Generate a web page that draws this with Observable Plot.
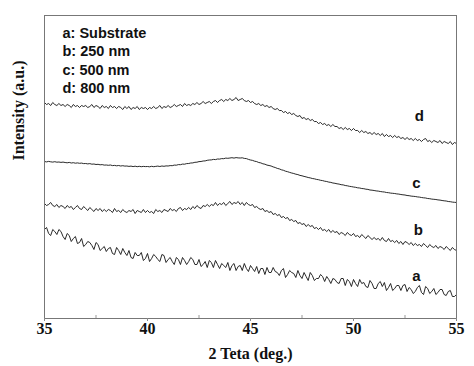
<!DOCTYPE html>
<html>
<head>
<meta charset="utf-8">
<script src="https://cdn.jsdelivr.net/npm/d3@7"></script>
<script src="https://cdn.jsdelivr.net/npm/@observablehq/plot@0.6"></script>
<style>
  html, body { margin: 0; padding: 0; background: #fff; }
</style>
</head>
<body>
<div id="chart"></div>
<script>
// 2θ angles (deg.)
const angles = [
  35,35.1,35.2,35.3,35.4,35.5,35.6,35.7,35.8,35.9,
  36,36.1,36.2,36.3,36.4,36.5,36.6,36.7,36.8,36.9,
  37,37.1,37.2,37.3,37.4,37.5,37.6,37.7,37.8,37.9,
  38,38.1,38.2,38.3,38.4,38.5,38.6,38.7,38.8,38.9,
  39,39.1,39.2,39.3,39.4,39.5,39.6,39.7,39.8,39.9,
  40,40.1,40.2,40.3,40.4,40.5,40.6,40.7,40.8,40.9,
  41,41.1,41.2,41.3,41.4,41.5,41.6,41.7,41.8,41.9,
  42,42.1,42.2,42.3,42.4,42.5,42.6,42.7,42.8,42.9,
  43,43.1,43.2,43.3,43.4,43.5,43.6,43.7,43.8,43.9,
  44,44.1,44.2,44.3,44.4,44.5,44.6,44.7,44.8,44.9,
  45,45.1,45.2,45.3,45.4,45.5,45.6,45.7,45.8,45.9,
  46,46.1,46.2,46.3,46.4,46.5,46.6,46.7,46.8,46.9,
  47,47.1,47.2,47.3,47.4,47.5,47.6,47.7,47.8,47.9,
  48,48.1,48.2,48.3,48.4,48.5,48.6,48.7,48.8,48.9,
  49,49.1,49.2,49.3,49.4,49.5,49.6,49.7,49.8,49.9,
  50,50.1,50.2,50.3,50.4,50.5,50.6,50.7,50.8,50.9,
  51,51.1,51.2,51.3,51.4,51.5,51.6,51.7,51.8,51.9,
  52,52.1,52.2,52.3,52.4,52.5,52.6,52.7,52.8,52.9,
  53,53.1,53.2,53.3,53.4,53.5,53.6,53.7,53.8,53.9,
  54,54.1,54.2,54.3,54.4,54.5,54.6,54.7,54.8,54.9,
  55];

// intensities (a.u., curves stacked as in the figure)
const seriesA = [
  89,91,85,83,89,87,84,89,87,82,
  79,85,83,77,80,82,75,76,80,72,
  74,77,76,73,69,76,74,68,70,72,
  67,70,71,65,64,71,68,64,70,66,
  63,68,61,60,66,63,63,66,58,60,
  65,57,60,64,62,59,57,64,63,56,
  59,61,57,54,61,59,54,61,58,54,
  57,61,59,54,54,59,52,54,57,51,
  58,56,51,58,54,50,55,53,51,56,
  48,53,55,48,52,53,48,55,50,47,
  53,50,47,52,45,50,50,44,51,46,
  46,51,47,46,43,48,50,41,44,48,
  46,45,41,48,43,40,46,42,38,46,
  43,38,40,40,44,42,37,42,39,35,
  40,39,36,35,40,40,33,39,37,32,
  39,35,32,39,35,36,32,31,38,35,
  30,30,35,37,32,36,28,31,35,28,
  30,33,33,28,33,34,27,31,29,25,
  27,31,33,26,24,32,30,25,27,30,
  24,26,29,29,24,23,27,28,22,22,
  24];
const seriesB = [
  115,113,114,116,113,112,114,111,113,112,
  110,113,111,112,109,111,113,110,109,112,
  110,108,111,109,107,110,108,110,107,109,
  107,109,108,106,110,107,108,106,109,107,
  106,108,107,109,105,108,107,106,109,106,
  108,106,107,105,109,107,108,106,109,108,
  107,110,108,109,107,110,111,108,110,109,
  111,109,112,110,113,111,110,113,112,114,
  112,114,113,116,113,115,114,116,113,115,
  117,114,116,115,117,114,116,113,116,114,
  113,114,111,112,110,109,110,107,108,106,
  107,104,105,103,104,101,102,100,101,98,
  99,97,98,95,96,94,95,92,94,92,
  93,90,91,89,91,88,89,87,89,86,
  88,86,87,84,86,85,83,86,84,83,
  85,82,83,81,84,82,80,83,81,79,
  81,79,80,78,81,78,77,80,77,78,
  76,78,75,77,74,77,76,74,76,73,
  75,73,74,72,75,73,71,74,72,71,
  73,70,72,71,69,72,70,68,71,69,
  68];
const seriesC = [
  157,156.6,157.1,156.7,156.4,156.8,156.3,156.5,156.1,156.4,
  156,155.7,156.1,155.5,155.8,155.3,155.6,155.2,155.4,154.9,
  155,154.6,154.9,154.3,154.5,154,154.2,153.7,153.9,153.4,
  153.5,153.2,153.5,152.9,153.1,152.7,153,152.5,152.8,152.4,
  152.5,152.1,152.4,151.9,152.3,151.8,152.2,151.8,152.1,151.9,
  152,151.7,152.2,151.8,152.1,152.4,152,152.5,152.2,152.6,
  152.5,152.9,152.8,153.4,153.3,153.9,153.8,154.4,154.3,154.9,
  155,155.5,155.6,156.2,156.3,156.9,157,157.5,157.6,158.2,
  158.5,158.6,159.1,158.9,159.5,159.4,159.9,159.8,160.4,160.2,
  160.5,160.8,160.4,160.9,160.6,160.5,160.7,160.1,159.9,159.1,
  158.5,158.1,157.3,156.9,156,155.6,154.7,154.3,153.4,153,
  152.5,151.6,151,150.1,149.6,148.7,148.2,147.3,146.8,146.1,
  145.5,145,144.3,143.9,143.1,142.7,142.1,141.6,141,140.6,
  140,139.7,139.1,138.8,138.2,137.9,137.3,137,136.4,136.1,
  135.5,135.2,134.7,134.4,133.8,133.6,133,132.7,132.2,131.9,
  131.5,131.2,130.7,130.5,130,129.8,129.3,129.1,128.5,128.3,
  128,127.6,127.4,127,126.7,126.5,126,125.8,125.4,125.2,
  125,124.6,124.4,124,123.7,123.5,123,122.8,122.4,122.2,
  122,121.6,121.4,121,120.7,120.5,120,119.8,119.4,119.2,
  119,118.6,118.4,118,117.7,117.5,117,116.8,116.4,116.2,
  116];
const seriesD = [
  216,214,215,213,216,214,213,215,213,214,
  212,214,213,211,214,212,213,211,213,212,
  213,211,212,214,211,213,212,210,213,211,
  212,210,213,211,212,210,212,211,209,212,
  210,212,209,211,210,212,209,211,210,211,
  209,211,210,212,210,211,213,210,212,211,
  213,211,212,214,212,213,214,212,215,213,
  214,213,215,214,216,214,215,217,215,216,
  217,215,217,218,216,218,219,217,219,218,
  220,218,219,221,218,219,220,218,217,218,
  216,217,215,214,215,213,214,212,213,211,
  212,210,209,210,208,208,206,207,205,206,
  204,205,203,202,203,200,201,199,200,198,
  199,197,197,195,196,194,195,193,194,192,
  194,192,192,190,191,189,191,189,190,188,
  190,188,188,186,188,186,187,185,186,184,
  186,184,185,183,185,182,184,182,183,181,
  183,181,182,180,181,179,181,179,180,178,
  180,178,179,177,179,180,177,178,176,178,
  177,176,178,175,177,176,175,177,174,176,
  175];

const seriesNames = ["a", "b", "c", "d"];
const seriesValues = [seriesA, seriesB, seriesC, seriesD];

// curve labels (letter, 2θ, intensity)
const labelNames = ["a", "b", "c", "d"];
const labelX = [53.06, 53.15, 53.06, 53.2];
const labelY = [42, 88, 135, 202];

const legendLines = ["a: Substrate", "b: 250 nm", "c: 500 nm", "d: 800 nm"];
const xTicks = [35, 40, 45, 50, 55];
const xMinorTicks = [37.5, 42.5, 47.5, 52.5];

const rows = seriesNames.flatMap((name, k) =>
  angles.map((x, i) => ({sample: name, x, y: seriesValues[k][i]})));
const labels = labelNames.map((t, i) => ({t, x: labelX[i], y: labelY[i]}));

const sans = "'Liberation Sans', Arial, sans-serif";
const serif = "'Liberation Serif', 'Times New Roman', serif";

const chart = Plot.plot({
  width: 474,
  height: 366,
  marginTop: 15,
  marginBottom: 48,
  marginLeft: 44,
  marginRight: 18,
  style: {background: "#fff", color: "#000"},
  x: {domain: [35, 55]},
  y: {domain: [0, 303], axis: null},
  marks: [
    Plot.line(rows, {x: "x", y: "y", z: "sample", stroke: "#111", strokeWidth: 0.9}),
    Plot.frame({stroke: "#777", strokeWidth: 1}),
    Plot.axisX({ticks: xTicks, tickSize: 3, tickPadding: 1, stroke: "#888",
      fontSize: 16, fontWeight: "bold", fontFamily: serif, fill: "#111", label: null}),
    Plot.axisX({ticks: xMinorTicks, tickSize: -3, stroke: "#999", text: null, label: null}),
    Plot.text(labels, {x: "x", y: "y", text: "t", fontSize: 15, fontWeight: "bold",
      fontFamily: sans, fill: "#111"}),
    Plot.text([legendLines.join("\n")], {frameAnchor: "top-left", dx: 18, dy: 10,
      textAnchor: "start", lineAnchor: "top", lineHeight: 1.25, fontSize: 14.5,
      fontWeight: "bold", fontFamily: sans, fill: "#111"}),
    Plot.text(["2 Teta (deg.)"], {frameAnchor: "bottom", dy: 35, lineAnchor: "middle",
      fontSize: 16, fontWeight: "bold", fontFamily: serif, fill: "#111"}),
    Plot.text(["Intensity (a.u.)"], {frameAnchor: "left", dx: -26, dy: -6.5, rotate: -90,
      lineAnchor: "middle", fontSize: 16, fontWeight: "bold", fontFamily: serif, fill: "#111"})
  ]
});
document.getElementById("chart").appendChild(chart);
</script>
</body>
</html>
